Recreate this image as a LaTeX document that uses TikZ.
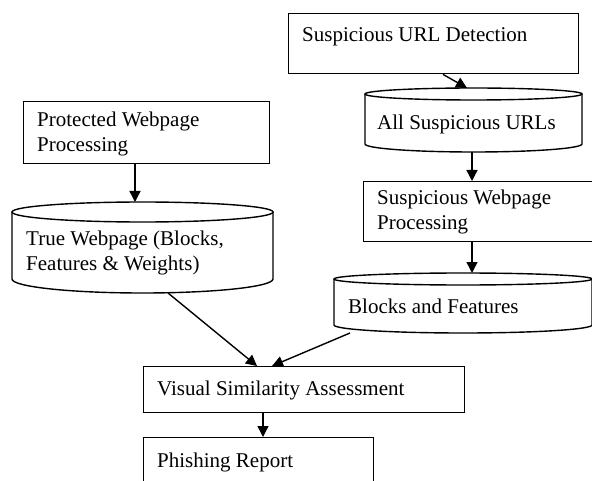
\documentclass[tikz,border=0pt]{standalone}
\usepackage{fontspec}
\setmainfont{Liberation Serif}
\usetikzlibrary{arrows.meta,calc}
% database symbol: left x, right x, top centre y, top radius, bottom centre y, bottom radius
\newcommand\dbshape[6]{%
  \draw[db] (#1,#3) -- (#1,#5)
    arc[start angle=180,end angle=0,x radius={(#2-#1)/2},y radius=#6] -- (#2,#3);
  \draw[db] ({(#1+#2)/2},#3) ellipse[x radius={(#2-#1)/2},y radius=#4];}
\begin{document}
\begin{tikzpicture}[x=1bp,y=-1bp,
  box/.style={draw,line width=1.4bp,rectangle,inner sep=0,anchor=north west},
  lbl/.style={anchor=base west,inner sep=0,align=left,font=\fontsize{21bp}{25bp}\selectfont},
  db/.style={draw,line width=1.4bp,fill=white},
  flow/.style={line width=1.4bp,-{Triangle[length=11bp,width=11bp]}}]
\useasboundingbox (0,0) rectangle (592,481);
\clip (0,0) rectangle (592,481);
\fill[white] (0,0) rectangle (592,481);

% process boxes
\node[box,minimum width=290bp,minimum height=60bp] (sud) at (288,13) {};
\node[box,minimum width=246bp,minimum height=62bp] (pwp) at (23,101) {};
\node[box,minimum width=240bp,minimum height=60bp] (swp) at (363,181) {};
\node[box,minimum width=321bp,minimum height=46bp] (vsa) at (143,366) {};
\node[box,minimum width=230bp,minimum height=60bp] (pr) at (143,437) {};

% data stores
\dbshape{365}{582}{94}{6}{144}{8}
\dbshape{12}{273}{212}{10}{279}{14}
\dbshape{334}{592}{279}{6}{325}{8}

% labels (multi-line labels sit on the baseline of their last line)
\node[lbl] (tsud) at (302,42) {Suspicious URL Detection};
\node[lbl] (tasu) at (377,130) {All Suspicious URLs};
\node[lbl] (tpwp) at (37,152) {Protected Webpage\\Processing};
\node[lbl] (ttw) at (26,270) {True Webpage (Blocks,\\Features \& Weights)};
\node[lbl] (tswp) at (377,230) {Suspicious Webpage\\Processing};
\node[lbl] (tbf) at (348,313) {Blocks and Features};
\node[lbl] (tvsa) at (157,395) {Visual Similarity Assessment};
\node[lbl] (tpr) at (157,467) {Phishing Report};

% connector end points
\coordinate (asuTop) at (467,88);
\coordinate (asuBot) at (472,152);
\coordinate (twTop) at (135,202);
\coordinate (twBot) at (168,293);
\coordinate (bfTop) at (472,273);
\coordinate (bfBot) at (350,333);
\coordinate (vsaInL) at (257,366);
\coordinate (vsaInR) at (272,366);

% connectors
\draw[flow] ($(sud.south west)+(155,0)$) -- (asuTop);
\draw[flow] (asuBot) -- (asuBot |- swp.north);
\draw[flow] (pwp.south -| twTop) -- (twTop);
\draw[flow] (swp.south -| bfTop) -- (bfTop);
\draw[flow] (twBot) -- (vsaInL);
\draw[flow] (bfBot) -- (vsaInR);
\draw[flow] ($(vsa.south west)+(120,0)$) -- ($(pr.north west)+(120,0)$);
\end{tikzpicture}
\end{document}
